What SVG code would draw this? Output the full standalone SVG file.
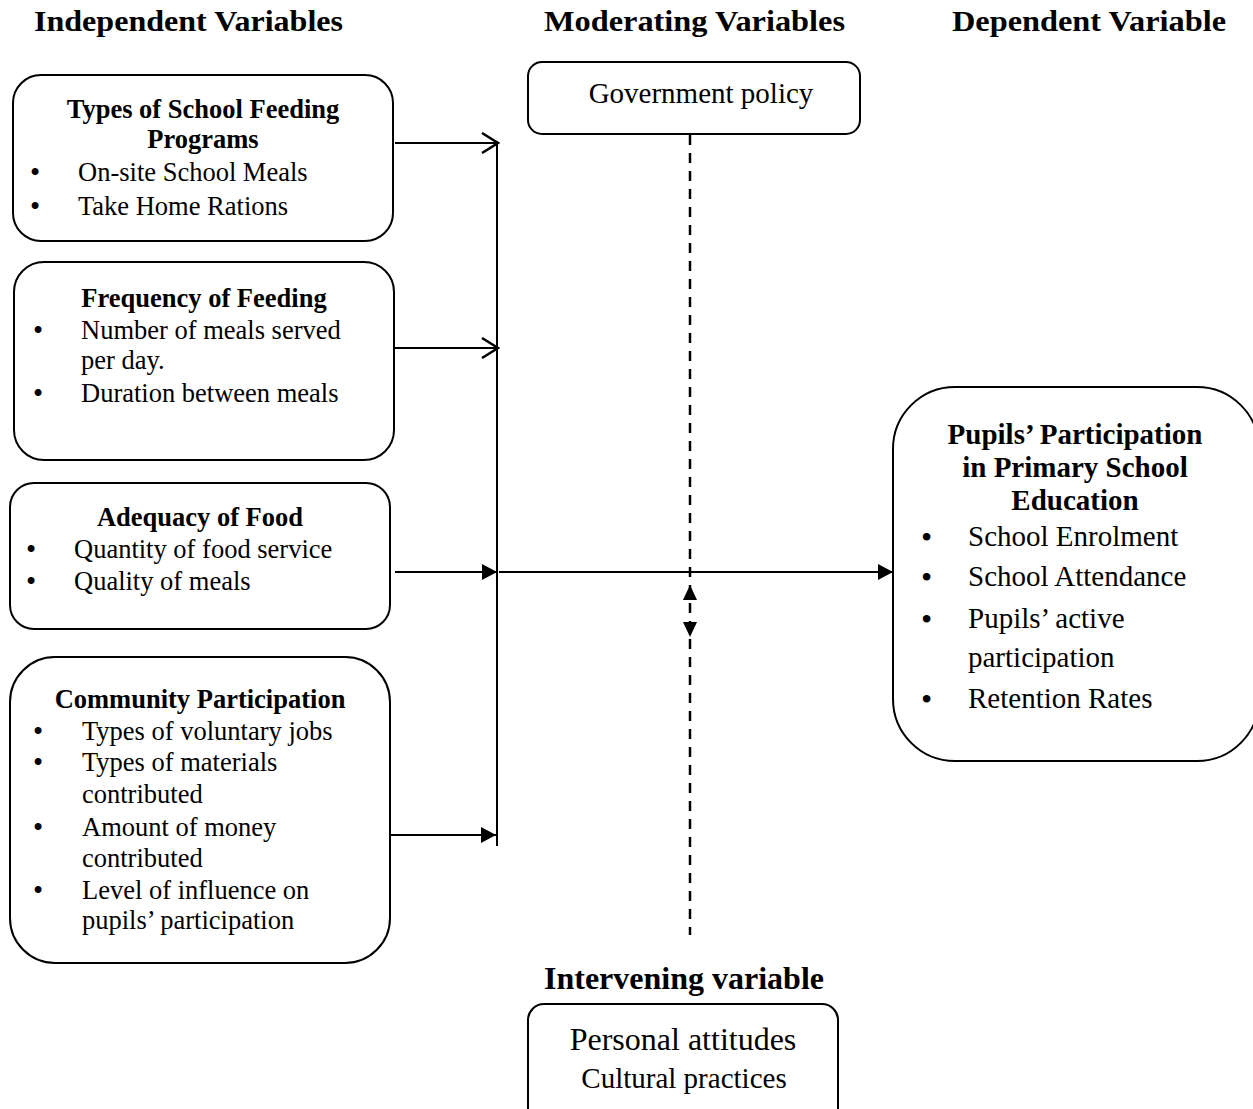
<svg xmlns="http://www.w3.org/2000/svg" width="1253" height="1109" viewBox="0 0 1253 1109">
<style>
text{font-family:"Liberation Serif","Times New Roman",serif;fill:#000}
.h{font-size:29px;font-weight:bold}
.t{font-size:26.5px;font-weight:bold}
.b{font-size:26.5px}
.u{font-size:29px}
.box{fill:#fff;stroke:#000;stroke-width:2}
.ln{stroke:#000;stroke-width:2;fill:none}
.dash{stroke:#000;stroke-width:2.5;stroke-dasharray:10 8;fill:none}
</style>
<defs>
<marker id="open" markerWidth="20" markerHeight="22" refX="18" refY="11" orient="auto" markerUnits="userSpaceOnUse">
<path d="M2,1 L18,11 L2,21" fill="none" stroke="#000" stroke-width="2.5"/>
</marker>
<marker id="fill" markerWidth="16" markerHeight="16" refX="15" refY="8" orient="auto" markerUnits="userSpaceOnUse">
<path d="M0,0 L15,8 L0,16 Z" fill="#000"/>
</marker>
</defs>
<rect width="1253" height="1109" fill="#fff"/>
<g id="headers">
<text class="h" x="34" y="31" textLength="309" lengthAdjust="spacingAndGlyphs">Independent Variables</text>
<text class="h" x="544" y="31" textLength="301" lengthAdjust="spacingAndGlyphs">Moderating Variables</text>
<text class="h" x="952" y="31" textLength="274" lengthAdjust="spacingAndGlyphs">Dependent Variable</text>
</g>
<g id="connectors">
<line class="ln" x1="497" y1="141" x2="497" y2="846"/>
<line class="ln" x1="395" y1="143" x2="498" y2="143" marker-end="url(#open)"/>
<line class="ln" x1="395" y1="348" x2="498" y2="348" marker-end="url(#open)"/>
<line class="ln" x1="395" y1="572" x2="497" y2="572" marker-end="url(#fill)"/>
<line class="ln" x1="390" y1="835" x2="496" y2="835" marker-end="url(#fill)"/>
<line class="ln" x1="499" y1="572" x2="893" y2="572" marker-end="url(#fill)"/>
<line class="dash" x1="690" y1="135" x2="690" y2="935"/>
<path d="M690,585 L697,600 L683,600 Z" fill="#000"/>
<path d="M690,637 L697,622 L683,622 Z" fill="#000"/>
</g>
<g id="node-types">
<rect class="box" x="13" y="75" width="380" height="166" rx="28"/>
<text class="t" x="203" y="118" text-anchor="middle">Types of School Feeding</text>
<text class="t" x="203" y="148" text-anchor="middle">Programs</text>
<text class="u" x="30" y="182">•</text><text class="b" x="78" y="181">On-site School Meals</text>
<text class="u" x="30" y="216">•</text><text class="b" x="78" y="215">Take Home Rations</text>
</g>
<g id="node-frequency">
<rect class="box" x="14" y="262" width="380" height="198" rx="30"/>
<text class="t" x="204" y="307" text-anchor="middle">Frequency of Feeding</text>
<text class="u" x="33" y="340">•</text><text class="b" x="81" y="339">Number of meals served</text>
<text class="b" x="81" y="369">per day.</text>
<text class="u" x="33" y="403">•</text><text class="b" x="81" y="402">Duration between meals</text>
</g>
<g id="node-adequacy">
<rect class="box" x="10" y="483" width="380" height="146" rx="24"/>
<text class="t" x="200" y="526" text-anchor="middle">Adequacy of Food</text>
<text class="u" x="26" y="559">•</text><text class="b" x="74" y="558">Quantity of food service</text>
<text class="u" x="26" y="591">•</text><text class="b" x="74" y="590">Quality of meals</text>
</g>
<g id="node-community">
<rect class="box" x="10" y="657" width="380" height="306" rx="45"/>
<text class="t" x="200" y="708" text-anchor="middle">Community Participation</text>
<text class="u" x="33" y="741">•</text><text class="b" x="82" y="740">Types of voluntary jobs</text>
<text class="u" x="33" y="772">•</text><text class="b" x="82" y="771">Types of materials</text>
<text class="b" x="82" y="803">contributed</text>
<text class="u" x="33" y="837">•</text><text class="b" x="82" y="836">Amount of money</text>
<text class="b" x="82" y="867">contributed</text>
<text class="u" x="33" y="900">•</text><text class="b" x="82" y="899">Level of influence on</text>
<text class="b" x="82" y="929">pupils’ participation</text>
</g>
<g id="node-government">
<rect class="box" x="528" y="62" width="332" height="72" rx="14"/>
<text x="701" y="103" text-anchor="middle" style="font-size:29px">Government policy</text>
</g>
<g id="node-dependent">
<rect class="box" x="893" y="387" width="366" height="374" rx="62"/>
<text x="1075" y="444" text-anchor="middle" style="font-size:29px;font-weight:bold">Pupils’ Participation</text>
<text x="1075" y="477" text-anchor="middle" style="font-size:29px;font-weight:bold">in Primary School</text>
<text x="1075" y="510" text-anchor="middle" style="font-size:29px;font-weight:bold">Education</text>
<g style="font-size:29px">
<text style="font-size:32px" x="921" y="548">•</text><text x="968" y="546">School Enrolment</text>
<text style="font-size:32px" x="921" y="588">•</text><text x="968" y="586">School Attendance</text>
<text style="font-size:32px" x="921" y="630">•</text><text x="968" y="628">Pupils’ active</text>
<text x="968" y="667">participation</text>
<text style="font-size:32px" x="921" y="710">•</text><text x="968" y="708">Retention Rates</text>
</g>
</g>
<g id="node-intervening">
<text x="684" y="989" text-anchor="middle" style="font-size:32px;font-weight:bold">Intervening variable</text>
<rect class="box" x="528" y="1004" width="310" height="130" rx="16"/>
<text x="683" y="1050" text-anchor="middle" style="font-size:32px">Personal attitudes</text>
<text x="684" y="1088" text-anchor="middle" style="font-size:29px">Cultural practices</text>
</g>
</svg>
